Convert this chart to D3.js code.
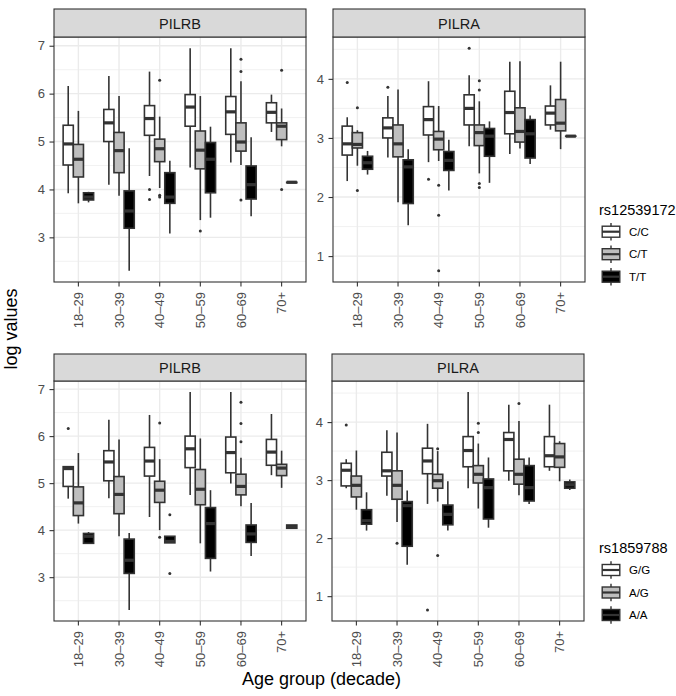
<!DOCTYPE html>
<html><head><meta charset="utf-8">
<script src="https://cdn.jsdelivr.net/npm/d3@7"></script>
<style>
body{margin:0;background:#fff}
svg{display:block}
text{font-family:"Liberation Sans",Arial,Helvetica,sans-serif}
</style>
</head><body>
<svg id="chart" width="676" height="696"></svg>
<script>
// ---------------- DATA ----------------
const ageGroups = ["18–29","30–39","40–49","50–59","60–69","70+"];
const genotypesTop = ["C/C","C/T","T/T"];
const genotypesBottom = ["G/G","A/G","A/A"];
const genotypeFills = ["#FFFFFF","#BEBEBE","#000000"];
const legendTitles = ["rs12539172","rs1859788"];
const geneNames = ["PILRB","PILRA"];
const yTitle = "log values";
const xTitle = "Age group (decade)";

// each entry: [lower whisker, Q1, median, Q3, upper whisker], one per age group
const topPILRB_CC = [[3.92,4.51,4.95,5.34,6.16],[4.10,5.00,5.39,5.67,6.37],[4.28,5.13,5.48,5.75,6.46],[4.46,5.32,5.72,5.98,6.95],[4.56,5.15,5.62,5.94,6.95],[5.20,5.39,5.61,5.81,5.98]];
const topPILRB_CT = [[3.71,4.26,4.63,4.94,5.64],[3.87,4.35,4.81,5.19,5.95],[4.03,4.58,4.85,5.05,5.52],[3.36,4.43,4.82,5.22,5.95],[4.51,4.80,4.99,5.39,6.26],[4.90,5.04,5.32,5.39,5.69]];
const topPILRB_TT = [[3.73,3.78,3.84,3.93,3.95],[2.30,3.19,3.55,3.97,4.86],[3.08,3.71,3.84,4.35,4.60],[3.41,3.93,4.63,4.98,5.31],[3.44,3.80,4.10,4.49,5.09],[4.14,4.14,4.15,4.15,4.15]];
const topPILRB_out = [["40–49","C/C",4.00],["40–49","C/C",3.79],["40–49","C/T",6.28],["40–49","C/T",3.88],["40–49","C/T",3.84],["50–59","C/T",3.13],["60–69","C/T",6.72],["60–69","C/T",6.46],["60–69","C/T",3.78],["70+","C/T",6.49],["70+","C/T",4.00]];

const topPILRA_CC = [[2.27,2.71,2.90,3.20,3.35],[2.67,3.00,3.17,3.34,3.71],[2.59,3.05,3.31,3.53,3.96],[2.86,3.22,3.50,3.73,4.06],[2.73,3.07,3.43,3.79,4.29],[3.14,3.22,3.42,3.54,3.89]];
const topPILRA_CT = [[2.53,2.83,2.89,3.09,3.13],[1.91,2.68,2.90,3.22,3.82],[2.61,2.80,2.98,3.11,3.54],[2.40,2.87,3.09,3.22,3.62],[2.82,2.93,3.11,3.51,4.30],[2.81,3.12,3.25,3.65,4.29]];
const topPILRA_TT = [[2.38,2.47,2.58,2.69,2.78],[1.52,1.89,2.51,2.63,2.81],[2.11,2.45,2.62,2.77,2.97],[2.24,2.69,3.03,3.16,3.28],[2.56,2.66,3.07,3.31,3.38],[3.03,3.03,3.03,3.03,3.03]];
const topPILRA_out = [["18–29","C/C",3.94],["18–29","C/T",3.51],["18–29","C/T",2.11],["30–39","C/C",3.86],["40–49","C/C",2.30],["40–49","C/T",2.20],["40–49","C/T",1.69],["40–49","C/T",0.75],["50–59","C/C",4.52],["50–59","C/T",3.97],["50–59","C/T",3.81],["50–59","C/T",2.23],["50–59","C/T",2.16]];

const botPILRB_GG = [[4.67,4.93,5.31,5.35,5.36],[4.68,5.05,5.45,5.69,6.35],[4.28,5.15,5.47,5.76,6.45],[4.75,5.33,5.73,6.00,6.94],[4.99,5.22,5.65,5.98,6.94],[5.17,5.38,5.66,5.93,6.47]];
const botPILRB_AG = [[4.14,4.31,4.58,4.92,5.64],[3.87,4.35,4.76,5.14,5.93],[4.00,4.59,4.85,5.04,5.51],[3.72,4.54,4.87,5.29,5.95],[4.51,4.75,4.93,5.19,5.54],[4.90,5.16,5.32,5.40,5.69]];
const botPILRB_AA = [[3.72,3.72,3.87,3.93,3.96],[2.30,3.08,3.36,3.81,3.94],[3.73,3.73,3.76,3.87,3.87],[3.12,3.40,4.14,4.48,4.85],[3.45,3.74,3.92,4.11,4.58],[4.04,4.04,4.07,4.11,4.11]];
const botPILRB_out = [["18–29","G/G",6.16],["40–49","A/G",6.28],["40–49","A/G",3.85],["40–49","A/A",4.33],["40–49","A/A",3.08],["60–69","A/G",6.72],["60–69","A/G",6.27],["60–69","A/G",5.88]];

const botPILRA_GG = [[2.86,2.90,3.17,3.29,3.36],[2.73,3.07,3.16,3.48,3.86],[2.59,3.11,3.33,3.55,3.97],[2.86,3.23,3.51,3.75,4.52],[2.99,3.16,3.70,3.82,4.30],[3.16,3.23,3.42,3.75,4.30]];
const botPILRA_AG = [[2.49,2.71,2.91,3.07,3.51],[2.28,2.67,2.91,3.16,3.82],[2.63,2.86,2.99,3.10,3.50],[2.51,2.95,3.10,3.25,3.63],[2.74,2.93,3.10,3.36,4.02],[2.98,3.22,3.40,3.63,3.67]];
const botPILRA_AA = [[2.13,2.24,2.30,2.49,2.79],[1.54,1.86,2.56,2.63,2.82],[2.13,2.23,2.41,2.57,2.98],[2.18,2.33,2.87,3.02,3.39],[2.59,2.64,2.87,3.25,3.39],[2.83,2.86,2.92,2.97,3.01]];
const botPILRA_out = [["18–29","G/G",3.95],["30–39","A/G",1.91],["40–49","G/G",0.76],["40–49","A/G",3.54],["40–49","A/G",1.70],["50–59","A/G",3.98],["50–59","A/G",3.82],["60–69","A/G",4.32]];

// ---------------- LAYOUT ----------------
const svg = d3.select("#chart");
const defs = svg.append("defs");
defs.append("clipPath").attr("id","clipTop").append("rect").attr("x",0).attr("y",0).attr("width",676).attr("height",331);

const gTop = svg.append("g").attr("clip-path","url(#clipTop)");
const gBot = svg.append("g");

const panels = [
  {g:gTop, strip:geneNames[0], series:[topPILRB_CC,topPILRB_CT,topPILRB_TT], out:topPILRB_out, geno:genotypesTop, x0:54, x1:306, s0:9, y0:37, y1:282},
  {g:gTop, strip:geneNames[1], series:[topPILRA_CC,topPILRA_CT,topPILRA_TT], out:topPILRA_out, geno:genotypesTop, x0:333, x1:585, s0:9, y0:37, y1:282},
  {g:gBot, strip:geneNames[0], series:[botPILRB_GG,botPILRB_AG,botPILRB_AA], out:botPILRB_out, geno:genotypesBottom, x0:54, x1:306, s0:354, y0:381, y1:621},
  {g:gBot, strip:geneNames[1], series:[botPILRA_GG,botPILRA_AG,botPILRA_AA], out:botPILRA_out, geno:genotypesBottom, x0:332, x1:584, s0:354, y0:381, y1:621}
];

const DARK = "#333333";

function drawPanel(p){
  const g = p.g.append("g");
  const x = d3.scaleBand().domain(ageGroups).range([p.x0,p.x1]).paddingInner(0).paddingOuter(0.1);
  const step = x.step();
  const sub = d3.scaleBand().domain(p.geno).range([0, 0.75*step]);
  const all = p.series.flat(2).concat(p.out.map(d=>d[2]));
  const [mn,mx] = d3.extent(all);
  const pad = (mx-mn)*0.05;
  const y = d3.scaleLinear().domain([mn-pad, mx+pad]).range([p.y1, p.y0]);
  const [d0,d1] = y.domain();

  g.append("rect").attr("x",p.x0).attr("y",p.y0).attr("width",p.x1-p.x0).attr("height",p.y1-p.y0).attr("fill","#fff");

  const majors = d3.range(Math.ceil(d0), Math.floor(d1)+1);
  const minors = d3.range(Math.floor(d0)+0.5, d1, 1).filter(v=>v>d0 && v<d1);
  g.selectAll(".minor").data(minors).join("line")
    .attr("x1",p.x0).attr("x2",p.x1).attr("y1",d=>y(d)).attr("y2",d=>y(d))
    .attr("stroke","#EBEBEB").attr("stroke-width",0.7);
  g.selectAll(".majorY").data(majors).join("line")
    .attr("x1",p.x0).attr("x2",p.x1).attr("y1",d=>y(d)).attr("y2",d=>y(d))
    .attr("stroke","#EBEBEB").attr("stroke-width",1.4);
  g.selectAll(".majorX").data(ageGroups).join("line")
    .attr("x1",d=>x(d)+x.bandwidth()/2).attr("x2",d=>x(d)+x.bandwidth()/2).attr("y1",p.y0).attr("y2",p.y1)
    .attr("stroke","#EBEBEB").attr("stroke-width",1.4);

  const boxLeft = (age, geno) => x(age) + x.bandwidth()/2 - 0.375*step + sub(geno);
  const bw = sub.bandwidth();

  p.series.forEach((arr, gi) => {
    const geno = p.geno[gi];
    arr.forEach((s, ai) => {
      const age = ageGroups[ai];
      const lx = boxLeft(age, geno);
      const cx = lx + bw/2;
      const bg = g.append("g");
      bg.append("line").attr("x1",cx).attr("x2",cx).attr("y1",y(s[3])).attr("y2",y(s[4])).attr("stroke",DARK).attr("stroke-width",1.6);
      bg.append("line").attr("x1",cx).attr("x2",cx).attr("y1",y(s[1])).attr("y2",y(s[0])).attr("stroke",DARK).attr("stroke-width",1.6);
      bg.append("rect").attr("x",lx).attr("y",y(s[3])).attr("width",bw).attr("height",Math.max(0.01,y(s[1])-y(s[3])))
        .attr("fill",genotypeFills[gi]).attr("stroke",DARK).attr("stroke-width",1.6);
      bg.append("line").attr("x1",lx).attr("x2",lx+bw).attr("y1",y(s[2])).attr("y2",y(s[2])).attr("stroke",DARK).attr("stroke-width",3.2);
    });
  });

  g.selectAll(".outlier").data(p.out).join("circle")
    .attr("cx",d=>boxLeft(d[0],d[1])+bw/2).attr("cy",d=>y(d[2])).attr("r",1.5)
    .attr("fill",DARK);

  g.append("rect").attr("x",p.x0).attr("y",p.y0).attr("width",p.x1-p.x0).attr("height",p.y1-p.y0)
    .attr("fill","none").attr("stroke",DARK).attr("stroke-width",1.1);

  // strip
  g.append("rect").attr("x",p.x0).attr("y",p.s0).attr("width",p.x1-p.x0).attr("height",p.y0-p.s0)
    .attr("fill","#D9D9D9").attr("stroke",DARK).attr("stroke-width",1.1);
  g.append("text").attr("x",(p.x0+p.x1)/2).attr("y",(p.s0+p.y0)/2+5.6).attr("text-anchor","middle")
    .attr("font-size",14.5).attr("fill","#1A1A1A").text(p.strip);

  // y axis
  const ya = g.append("g").attr("transform",`translate(${p.x0},0)`)
    .call(d3.axisLeft(y).tickValues(majors).tickFormat(d3.format("d")).tickSize(4.5).tickPadding(4.5).tickSizeOuter(0));
  ya.select(".domain").remove();
  ya.selectAll(".tick line").attr("stroke",DARK).attr("stroke-width",1.1);
  ya.selectAll(".tick text").attr("fill","#4D4D4D").attr("font-size",13).attr("font-family","Liberation Sans, Arial, sans-serif");

  // x axis
  const xa = g.append("g").attr("transform",`translate(0,${p.y1})`)
    .call(d3.axisBottom(x).tickSize(4.5).tickSizeOuter(0));
  xa.select(".domain").remove();
  xa.selectAll(".tick line").attr("stroke",DARK).attr("stroke-width",1.1);
  xa.selectAll(".tick text").attr("fill","#4D4D4D").attr("font-size",13).attr("font-family","Liberation Sans, Arial, sans-serif")
    .attr("transform","rotate(-90)").attr("text-anchor","end").attr("x",-10).attr("y",0).attr("dy","0.35em");
}
panels.forEach(drawPanel);

// legends
function drawLegend(title, genos, titleY, firstKeyY){
  const lg = svg.append("g");
  lg.append("text").attr("x",599).attr("y",titleY).attr("font-size",14.5).attr("fill","#000").text(title);
  const ks = 22;
  genos.forEach((gname, i) => {
    const cy = firstKeyY + i*22.5;
    const kx = 600, ky = cy - ks/2;
    lg.append("line").attr("x1",kx+ks/2).attr("x2",kx+ks/2).attr("y1",ky+0.1*ks).attr("y2",ky+0.9*ks).attr("stroke",DARK).attr("stroke-width",1.4);
    lg.append("rect").attr("x",kx+0.1*ks).attr("y",ky+0.25*ks).attr("width",0.8*ks).attr("height",0.5*ks)
      .attr("fill",genotypeFills[i]).attr("stroke",DARK).attr("stroke-width",1.4);
    lg.append("line").attr("x1",kx+0.1*ks).attr("x2",kx+0.9*ks).attr("y1",cy).attr("y2",cy).attr("stroke",DARK).attr("stroke-width",2.2);
    lg.append("text").attr("x",629).attr("y",cy).attr("dy","0.35em").attr("font-size",11.5).attr("fill","#000").text(gname);
  });
}
drawLegend(legendTitles[0], genotypesTop, 215, 231.7);
drawLegend(legendTitles[1], genotypesBottom, 553, 570);

// axis titles
svg.append("text").attr("transform","translate(16.5,329) rotate(-90)").attr("text-anchor","middle")
  .attr("font-size",18).attr("fill","#000").text(yTitle);
svg.append("text").attr("x",321.5).attr("y",685).attr("text-anchor","middle")
  .attr("font-size",18).attr("fill","#000").text(xTitle);
</script>
</body></html>
